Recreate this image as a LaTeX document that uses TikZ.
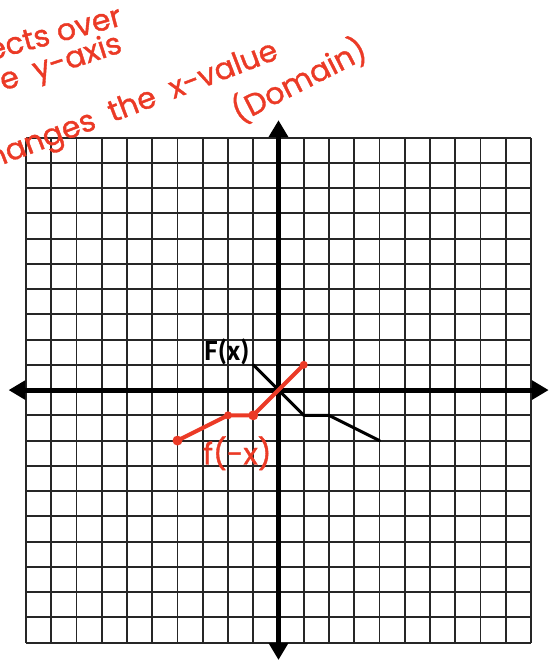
\documentclass[tikz,border=0pt]{standalone}
\usepackage{fontspec}
\newfontfamily\handfont[FakeBold=1.2]{Poppins}
\newfontfamily\tagfont{Carlito}
\usetikzlibrary{arrows.meta}
\definecolor{marker}{RGB}{235,58,38}

\begin{document}
\begin{tikzpicture}[x=0.5cm, y=0.5cm,
  gridline/.style={line width=1.1pt, black!85},
  axis/.style={line width=2.8pt,
               {Triangle[length=9.5pt,width=10.5pt]}-{Triangle[length=9.5pt,width=10.5pt]}},
  fx/.style={line width=1.7pt, line cap=round, line join=round},
  fnx/.style={line width=2.3pt, draw=marker, line cap=round, line join=round},
  dot/.style={circle, fill=marker, inner sep=0pt, minimum size=#1},
  dot/.default=5.6pt,
  note/.style={font=\handfont\fontsize{17}{20}\selectfont, text=marker, inner sep=0pt},
  tag/.style={font=\tagfont\bfseries\fontsize{16.5}{18}\selectfont, inner sep=0pt}
]
\clip (-11.03,-10.73) rectangle (10.75,15.45);

%% ═══════════════════════════════════════════════
%% Grid and axes
%% ═══════════════════════════════════════════════

\draw[gridline, step=1] (-10,-10) grid (10,10);

\coordinate (x_left)  at (-10.69,0);
\coordinate (x_right) at (10.70,0);
\coordinate (y_low)   at (0,-10.69);
\coordinate (y_high)  at (0,10.69);

\draw[axis] (x_left) -- (x_right);
\draw[axis] (y_low)  -- (y_high);

%% ═══════════════════════════════════════════════
%% F(x)
%% ═══════════════════════════════════════════════

\coordinate (f_a) at (-1, 1);
\coordinate (f_b) at ( 1,-1);
\coordinate (f_c) at ( 2,-1);
\coordinate (f_d) at ( 4,-2);

\draw[fx] (f_a) -- (f_b) -- (f_c) -- (f_d);
\node[tag] (f_lbl) at (-2.04,1.50) {F(x)};

%% ═══════════════════════════════════════════════
%% f(-x)  (reflected over the y-axis)
%% ═══════════════════════════════════════════════

\node[dot=4.5pt] (g_a) at ( 1, 1) {};
\node[dot]       (g_b) at (-1,-1) {};
\node[dot=4.5pt] (g_c) at (-2,-1) {};
\node[dot]       (g_d) at (-4,-2) {};

\draw[fnx] (g_a.center) -- (g_b.center) -- (g_c.center) -- (g_d.center);
\node[note] (g_lbl) at (-1.63,-2.50) {f(-x)};

%% ── handwritten notes ───────────────────────────
\node[note, rotate=15] (n_one)   at (-8.89,14.14) {ects over};
\node[note, rotate=18] (n_two)   at (-8.61,12.91) {e \ y-axis};
\node[note, rotate=21] (n_three) at (-5.76,11.21) {hanges \ the \ x-value};
\node[note, rotate=27] (n_four)  at ( 0.81,12.28) {(Domain)};

\end{tikzpicture}
\end{document}
